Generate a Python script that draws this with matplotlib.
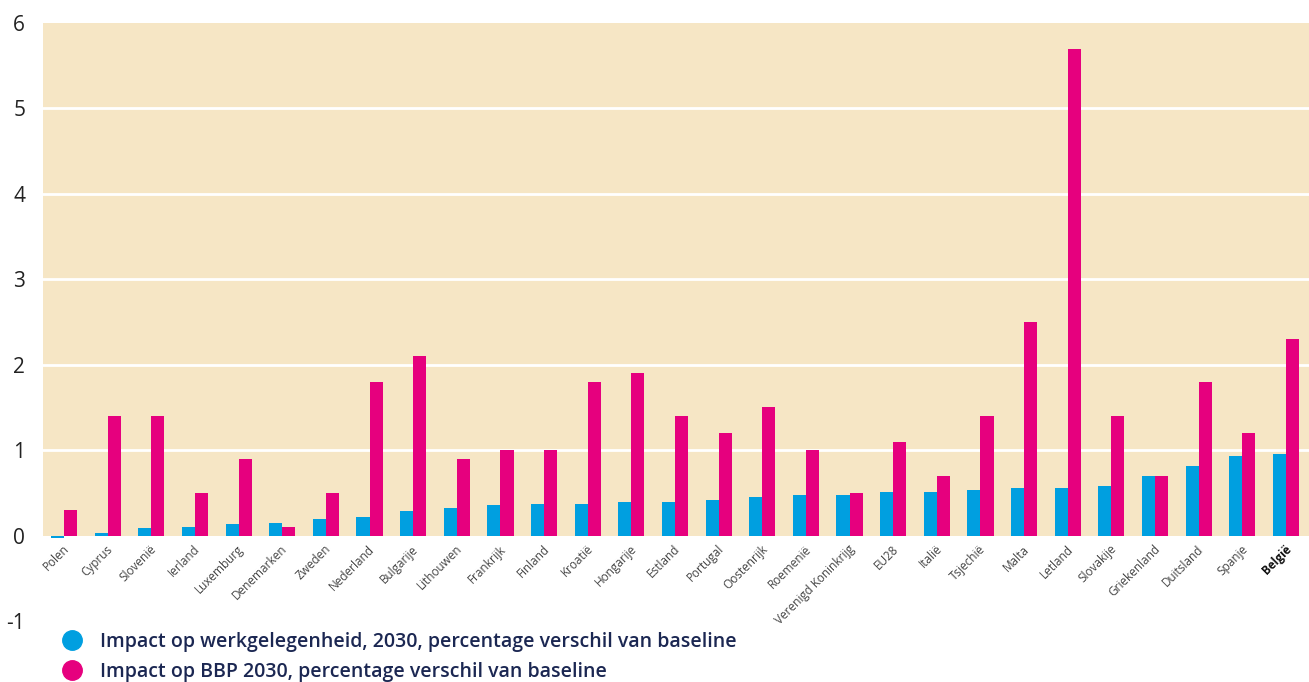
import matplotlib
matplotlib.use("Agg")
import matplotlib.pyplot as plt
import numpy as np
from matplotlib.lines import Line2D

plt.rcParams['font.family'] = ['Open Sans', 'DejaVu Sans']

countries = ['Polen', 'Cyprus', 'Slovenië', 'Ierland', 'Luxemburg', 'Denemarken',
             'Zweden', 'Nederland', 'Bulgarije', 'Lithouwen', 'Frankrijk', 'Finland',
             'Kroatië', 'Hongarije', 'Estland', 'Portugal', 'Oostenrijk', 'Roemenië',
             'Verenigd Koninkrijg', 'EU28', 'Italië', 'Tsjechië', 'Malta', 'Letland',
             'Slovakije', 'Griekenland', 'Duitsland', 'Spanje', 'België']
werk = [-0.03, 0.03, 0.09, 0.10, 0.14, 0.15, 0.20, 0.22, 0.29, 0.32, 0.36, 0.37,
        0.37, 0.39, 0.39, 0.42, 0.45, 0.47, 0.48, 0.51, 0.51, 0.53, 0.56, 0.56,
        0.58, 0.70, 0.82, 0.93, 0.95]
bbp = [0.3, 1.4, 1.4, 0.5, 0.9, 0.1, 0.5, 1.8, 2.1, 0.9, 1.0, 1.0,
       1.8, 1.9, 1.4, 1.2, 1.5, 1.0, 0.5, 1.1, 0.7, 1.4, 2.5, 5.7,
       1.4, 0.7, 1.8, 1.2, 2.3]

label_werk = 'Impact op werkgelegenheid, 2030, percentage verschil van baseline'
label_bbp = 'Impact op BBP 2030, percentage verschil van baseline'

blue = '#009fe0'
pink = '#e6007e'
beige = '#f6e6c5'
navy = '#1b2752'

fig = plt.figure(figsize=(13.09, 6.82), dpi=100)
ax = fig.add_axes([0.033, 0.0894, 0.967, 0.8769])

x = np.arange(len(countries))
w = 0.3

# beige band only above zero, white gridlines
ax.axhspan(0, 6, color=beige, zorder=0, lw=0)
for yv in range(1, 6):
    ax.axhline(yv, color='white', lw=2, zorder=1)

ax.bar(x - w / 2, werk, w, color=blue, zorder=2)
ax.bar(x + w / 2, bbp, w, color=pink, zorder=2)

ax.set_xlim(-0.48, 28.53)
ax.set_ylim(-1, 6)
ax.set_yticks(range(-1, 7))
ax.set_yticklabels([str(v) for v in range(-1, 7)], fontsize=15, color='#222222')
ax.tick_params(axis='y', length=0, pad=13)
ax.set_xticks([])

# category labels hang just under the zero line
for i, name in enumerate(countries):
    bold = name == 'België'
    ax.annotate(name, (x[i], 0), xytext=(-1, -5), textcoords='offset points',
                rotation=45, ha='right', va='top', rotation_mode='anchor',
                fontsize=8.5, color='#111111' if bold else '#444444',
                fontweight='bold' if bold else 'normal')

for s in ax.spines.values():
    s.set_visible(False)

handles = [Line2D([], [], marker='o', ls='', markersize=14, color=blue),
           Line2D([], [], marker='o', ls='', markersize=14, color=pink)]
leg = fig.legend(handles, [label_werk, label_bbp], loc='lower left',
                 bbox_to_anchor=(0.033, -0.026), frameon=False, fontsize=14,
                 handletextpad=0.8, labelspacing=0.55, handlelength=1.2)
for t in leg.get_texts():
    t.set_color(navy)
    t.set_fontweight('semibold')

fig.savefig('out.png', dpi=100)
